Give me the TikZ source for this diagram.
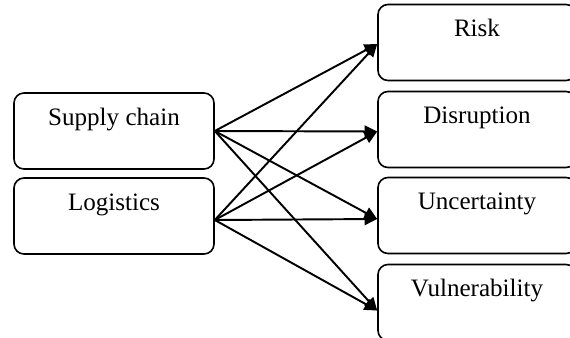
\documentclass[tikz,border=0pt]{standalone}
\usepackage{fontspec}
\setmainfont{Liberation Serif}
\usetikzlibrary{arrows.meta,calc}
\begin{document}
\begin{tikzpicture}[x=0.75pt,y=-0.75pt,
  box/.style={draw, line width=1.2pt, rounded corners=7.5pt, inner sep=0pt,
              minimum width=150pt, minimum height=57pt},
  rbox/.style={box, minimum width=148.5pt},
  lbl/.style={anchor=base, inner sep=0pt, font=\fontsize{18.8}{22}\selectfont},
  arr/.style={line width=1.45pt, -{Triangle[length=9.5pt, width=9pt]}}]
  \useasboundingbox (0,0) rectangle (570,337);
  \fill[white] (0,0) rectangle (570,337);
  \clip (0,0) rectangle (570,337);

  % source boxes
  \node[box] (sc)  at (114,131) {};
  \node[box] (log) at (114,216) {};
  % target boxes (run past the right and bottom edges)
  \node[rbox] (risk) at (477,42.5) {};
  \node[rbox] (disr) at (477,129.5) {};
  \node[rbox] (unc)  at (477,215.5) {};
  \node[rbox] (vul)  at (477,302.5) {};

  % labels sit near the top of each box
  \node[lbl] at ($(sc.north)+(0,33.5)$)   {Supply chain};
  \node[lbl] at ($(log.north)+(0,33)$)    {Logistics};
  \node[lbl] at ($(risk.north)+(0,33)$)   {Risk};
  \node[lbl] at ($(disr.north)+(0,33)$)   {Disruption};
  \node[lbl] at ($(unc.north)+(0,33)$)    {Uncertainty};
  \node[lbl] at ($(vul.north)+(0,33)$)    {Vulnerability};

  % connector ends
  \coordinate (sc-out)  at (sc.east);
  \coordinate (log-out) at ($(log.east)+(0,4)$);
  \coordinate (risk-in) at ($(risk.west)+(0,1.5)$);
  \coordinate (disr-in) at ($(disr.west)+(0,2)$);
  \coordinate (unc-in)  at ($(unc.west)+(0,3.5)$);
  \coordinate (vul-in)  at ($(vul.west)+(0,8)$);

  \foreach \t in {risk-in,disr-in,unc-in,vul-in}{
    \draw[arr] (sc-out) -- (\t);
    \draw[arr] (log-out) -- (\t);
  }
\end{tikzpicture}
\end{document}
